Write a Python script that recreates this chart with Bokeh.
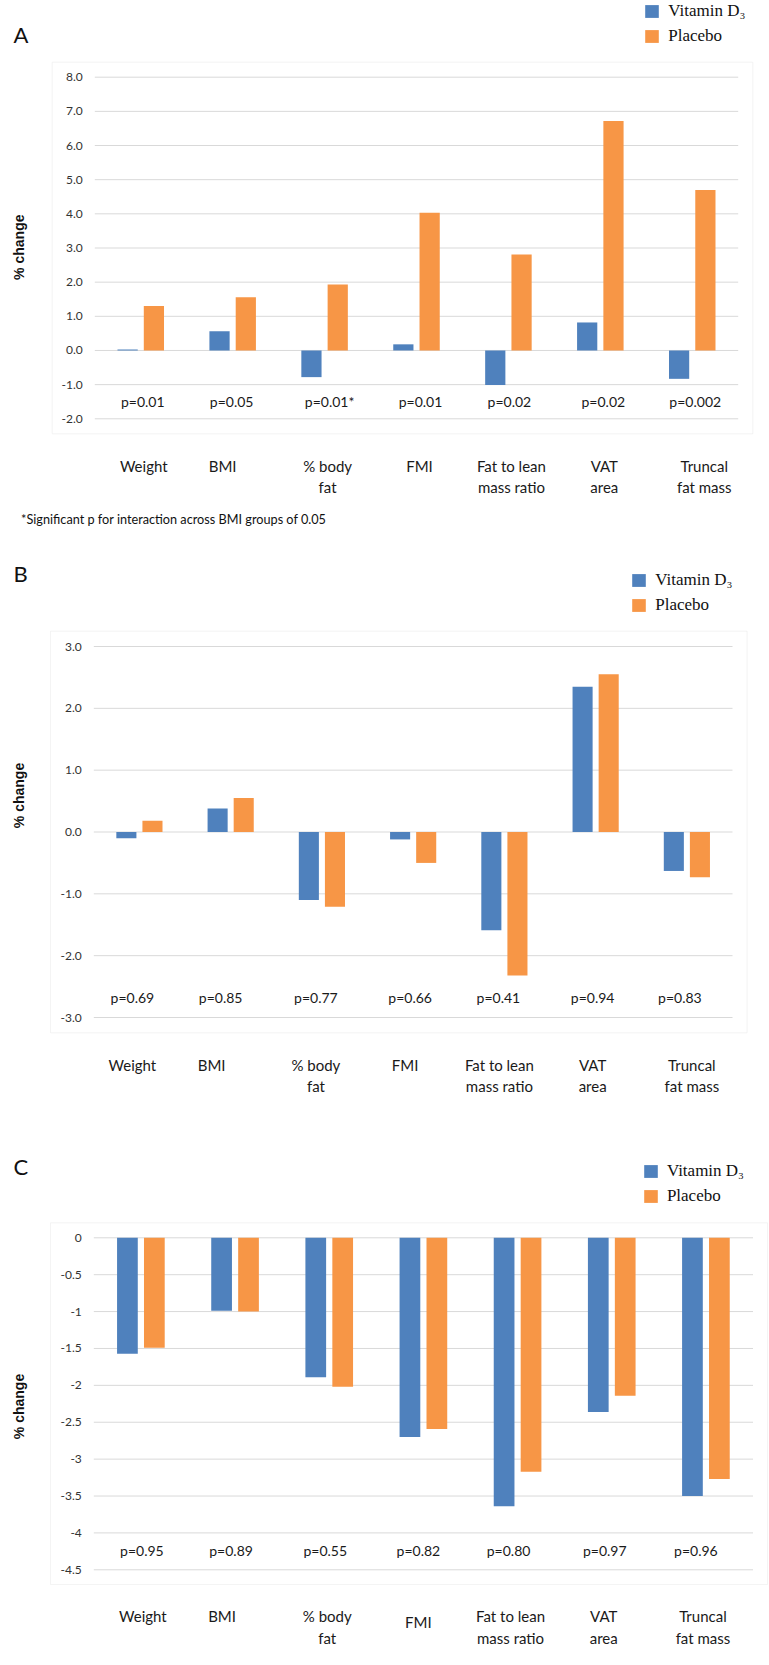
import math
from bokeh.plotting import figure
from bokeh.layouts import column
from bokeh.models import (ColumnDataSource, BoxAnnotation, Label, LabelSet, Legend,
                          LegendItem, Range1d)
from bokeh.transform import dodge
from bokeh.core.properties import value
from bokeh.embed import file_html
from bokeh.resources import INLINE

# ---------------- data ----------------
categories = ["Weight", "BMI", "% body\nfat", "FMI", "Fat to lean\nmass ratio", "VAT\narea", "Truncal\nfat mass"]
series_names = ["Vitamin D\u2083", "Placebo"]

a_vitd = [0.03, 0.56, -0.78, 0.18, -1.01, 0.82, -0.83]
a_placebo = [1.30, 1.56, 1.93, 4.03, 2.81, 6.72, 4.70]
a_pvals = ["p=0.01", "p=0.05", "p=0.01*", "p=0.01", "p=0.02", "p=0.02", "p=0.002"]
a_ticks = [-2.0, -1.0, 0.0, 1.0, 2.0, 3.0, 4.0, 5.0, 6.0, 7.0, 8.0]
a_tick_labels = ["-2.0", "-1.0", "0.0", "1.0", "2.0", "3.0", "4.0", "5.0", "6.0", "7.0", "8.0"]
a_note = "*Significant p for interaction across BMI groups of 0.05"

b_vitd = [-0.10, 0.38, -1.10, -0.12, -1.59, 2.35, -0.63]
b_placebo = [0.18, 0.55, -1.21, -0.50, -2.32, 2.55, -0.73]
b_pvals = ["p=0.69", "p=0.85", "p=0.77", "p=0.66", "p=0.41", "p=0.94", "p=0.83"]
b_ticks = [-3.0, -2.0, -1.0, 0.0, 1.0, 2.0, 3.0]
b_tick_labels = ["-3.0", "-2.0", "-1.0", "0.0", "1.0", "2.0", "3.0"]

c_vitd = [-1.57, -0.99, -1.89, -2.70, -3.64, -2.36, -3.50]
c_placebo = [-1.49, -1.00, -2.02, -2.59, -3.17, -2.14, -3.27]
c_pvals = ["p=0.95", "p=0.89", "p=0.55", "p=0.82", "p=0.80", "p=0.97", "p=0.96"]
c_ticks = [-4.5, -4.0, -3.5, -3.0, -2.5, -2.0, -1.5, -1.0, -0.5, 0.0]
c_tick_labels = ["-4.5", "-4", "-3.5", "-3", "-2.5", "-2", "-1.5", "-1", "-0.5", "0"]

# ---------------- style ----------------
BLUE = "#4F81BD"
ORANGE = "#F79646"
GRID = "#d9d9d9"
SANS = "Lato"
SERIF = "Liberation Serif"
W = 769
GLYPH_W, GLYPH_H = 17, 16
LEG_H = 46


def make_panel(letter, vitd, placebo, pvals, ticks, tick_labels, height, gl_x, gl_y,
               box, letter_mid, legend_tl, ylabel_c, p_px, p_nudge, lab_px,
               lab_nudge, lab_dy, note=None, note_px=None):
    n = len(categories)
    gl_l, gl_r = gl_x
    ppx = (gl_r - gl_l) / n
    x_start = -0.5 - gl_l / ppx
    x_end = x_start + W / ppx
    t_hi, t_lo = max(ticks), min(ticks)
    px_hi, px_lo = gl_y
    ppy = (px_lo - px_hi) / (t_hi - t_lo)
    y_top = t_hi + px_hi / ppy
    y_bot = y_top - height / ppy

    def X(px):
        return x_start + px / ppx

    def Y(px):
        return y_top - px / ppy

    p = figure(width=W, height=height, x_range=Range1d(x_start, x_end),
               y_range=Range1d(y_bot, y_top), output_backend="svg",
               toolbar_location=None, tools="", x_axis_location=None,
               y_axis_location=None, min_border=0)
    p.outline_line_color = None
    p.grid.visible = False
    p.background_fill_color = "white"
    p.border_fill_color = "white"

    # horizontal grid lines across the category bands, with their tick labels
    gsrc = ColumnDataSource(dict(t=ticks, tl=tick_labels))
    p.segment(x0=-0.5, x1=n - 0.5, y0="t", y1="t", source=gsrc,
              line_color=GRID, line_width=1)
    p.text(x=-0.5, y="t", text="tl", source=gsrc, x_offset=-12,
           text_align="right", text_baseline="middle",
           text_font=value(SANS), text_font_size="12px", text_color="#333333")

    src = ColumnDataSource(dict(
        idx=list(range(n)), vitd=vitd, placebo=placebo, p=pvals,
        l1=[c.split("\n")[0] for c in categories],
        l2=[(c.split("\n") + [""])[1] for c in categories],
        pn=p_nudge, ln=lab_nudge, ld=lab_dy,
    ))
    r1 = p.vbar(x=dodge("idx", -0.143), top="vitd", width=0.22,
                source=src, fill_color=BLUE, line_color=None)
    r2 = p.vbar(x=dodge("idx", 0.143), top="placebo", width=0.22,
                source=src, fill_color=ORANGE, line_color=None)

    p.text(x="idx", y=Y(p_px), text="p", source=src, x_offset="pn",
           text_align="center", text_baseline="middle",
           text_font=value(SANS), text_font_size="14px", text_color="#1a1a1a")

    bl, br, bt, bb = box
    p.add_layout(BoxAnnotation(left=X(bl), right=X(br), top=Y(bt), bottom=Y(bb),
                               fill_color=None, fill_alpha=0,
                               line_color=GRID, line_width=1))

    for col, ypx in zip(("l1", "l2"), lab_px):
        p.add_layout(LabelSet(x="idx", y=Y(ypx), text=col, source=src,
                              x_offset="ln", y_offset="ld",
                              text_align="center", text_baseline="middle",
                              text_font=value(SANS), text_font_size="15px",
                              text_color="#1a1a1a"))

    p.add_layout(Label(x=X(13), y=Y(letter_mid), text=letter, text_font=SANS,
                       text_font_size="22px", text_color="#111111",
                       text_baseline="middle"))
    p.add_layout(Label(x=X(ylabel_c[0]), y=Y(ylabel_c[1]), text="% change",
                       angle=math.pi / 2, text_font="Liberation Sans",
                       text_font_style="bold", text_font_size="14px",
                       text_color="#111111", text_align="center",
                       text_baseline="middle"))
    if note:
        p.add_layout(Label(x=X(note_px[0]), y=Y(note_px[1]), text=note,
                           text_font=SANS, text_font_size="12.7px",
                           text_color="#111111", text_baseline="middle"))

    sw_l, sw_t = legend_tl
    lx = sw_l - 0.1 * GLYPH_W
    ly = height - max(sw_t - 0.1 * GLYPH_H - 1, 0) - LEG_H
    legend = Legend(items=[LegendItem(label=series_names[0], renderers=[r1]),
                           LegendItem(label=series_names[1], renderers=[r2])],
                    location=(lx, ly), orientation="vertical",
                    background_fill_alpha=0, border_line_color=None,
                    padding=0, margin=0, spacing=5,
                    glyph_width=GLYPH_W, glyph_height=GLYPH_H, label_standoff=8,
                    label_height=16, label_text_font=SERIF,
                    label_text_font_size="17px", label_text_color="#111111")
    p.add_layout(legend)
    return p


pA = make_panel("A", a_vitd, a_placebo, a_pvals, a_ticks, a_tick_labels, 540,
                (94.3, 737.7), (76.7, 418.3), (51.7, 752.3, 61.7, 433.3), 34,
                (645, 2.7), (18, 246.7), 400.7, [2, -1, 5, 4, 1, 3, 3],
                (465.7, 486.7), [3, -10, 3, 3, 3, 4, 12], [0, 0, 0, 0, 0, 0, 0],
                note=a_note, note_px=(20.6, 518.3))
pB = make_panel("B", b_vitd, b_placebo, b_pvals, b_ticks, b_tick_labels, 570,
                (93.3, 732.0), (106.0, 477.0), (50, 746.6, 90.7, 492.3), 33,
                (632, 31.7), (18, 255), 456.7, [-7, -10, -6, -3, -6, -3, -7],
                (524.7, 545.8), [-7, -19, -6, -8, -5, -3, 5], [0, 0, 0, 0, 0, 0, 0])
pC = make_panel("C", c_vitd, c_placebo, c_pvals, c_ticks, c_tick_labels, 555,
                (93.3, 752.5), (127.3, 459.3), (50, 767, 112.3, 474), 56,
                (643.6, 52.6), (18, 296), 440.0, [1, -4, -4, -5, -9, -7, -10],
                (505.6, 527.0), [2, -13, -2, -5, -7, -8, -3], [0, 0, 0, -6, 0, 0, 0])

layout = column(pA, pB, pC, spacing=0)
open("out.html", "w").write(file_html(layout, INLINE))
